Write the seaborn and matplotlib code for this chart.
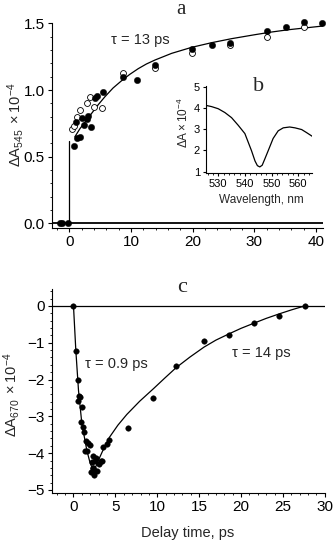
import numpy as np
import pandas as pd
import matplotlib
matplotlib.use("Agg")
import matplotlib.pyplot as plt
import seaborn as sns
from matplotlib.ticker import MultipleLocator

# ---------------- data ----------------
# panel a: kinetics at 545 nm
a_fill_t = [-1.5, -1.13, -0.16, 0.76, 1.2, 1.73, 1.03, 2.1, 2.43, 2.81, 3.08, 3.52,
            4.17, 4.44, 5.41, 8.76, 10.92, 13.9, 19.94, 23.08, 26.05, 32.04, 35.07, 38.1, 41.0]
a_fill_v = [0, 0, 0, 0.58, 0.64, 0.645, 0.76, 0.79, 0.74, 0.78, 0.805, 0.72,
            0.94, 0.955, 0.987, 1.10, 1.075, 1.19, 1.305, 1.337, 1.355, 1.445, 1.47, 1.51, 1.50]
a_open_t = [0.49, 0.81, 1.2, 1.73, 2.81, 3.35, 4.05, 5.35, 8.76, 13.9, 19.94, 26.05, 32.04, 38.1]
a_open_v = [0.707, 0.73, 0.80, 0.85, 0.90, 0.945, 0.87, 0.867, 1.13, 1.163, 1.28, 1.337, 1.40, 1.47]
a_step_t = [0.0, 0.0]
a_step_v = [0.0, 0.62]
a_fit_t = [0.92, 1.73, 3.08, 3.63, 4.7, 5.79, 7.1, 8.49, 9.8, 11.18, 12.5, 13.9, 16.6,
           19.84, 23.08, 26.3, 30.1, 32.8, 35.5, 38.7, 41.1]
a_fit_v = [0.65, 0.71, 0.79, 0.825, 0.89, 0.95, 1.015, 1.07, 1.117, 1.16, 1.195, 1.225,
           1.275, 1.32, 1.355, 1.385, 1.415, 1.435, 1.452, 1.468, 1.48]

# panel b: spectrum
b_wl = [525.3, 527.5, 530, 532.5, 535, 537.5, 540, 542.5, 543.8, 544.7, 545.6, 546.5,
        547.5, 548.8, 550.6, 552.5, 554.4, 556.8, 558.8, 561.3, 563.1, 565.3]
b_v = [4.12, 4.06, 3.96, 3.78, 3.54, 3.18, 2.79, 1.98, 1.5, 1.28, 1.22, 1.3,
       1.6, 2.0, 2.56, 2.92, 3.06, 3.1, 3.06, 2.98, 2.84, 2.66]

# panel c: kinetics at 670 nm
c_t = [0, 0.28, 0.48, 0.6, 0.52, 0.8, 1.0, 0.92, 1.19, 1.28, 1.51, 1.79, 1.39, 1.99,
       2.38, 2.19, 2.59, 2.38, 2.79, 2.6, 3.1, 3.38, 3.58, 3.98, 4.29, 2.07, 2.47,
       2.71, 1.6, 3.27, 2.31, 6.5, 9.54, 12.24, 15.58, 18.56, 21.54, 24.52, 27.62]
c_v = [0, -1.23, -2.01, -2.46, -2.57, -2.48, -2.75, -3.16, -3.30, -3.43, -3.66, -3.73,
       -3.93, -3.77, -4.07, -4.25, -4.2, -4.39, -4.48, -4.48, -4.3, -4.2, -3.84, -3.75,
       -3.64, -4.5, -4.58, -4.12, -3.95, -4.21, -4.39, -3.31, -2.51, -1.64, -0.96,
       -0.78, -0.46, -0.27, 0]
c_fit_t = [0, 0.28, 0.6, 1.0, 1.6, 2.0, 2.3, 2.6, 3.0, 3.6, 4.29, 5.3, 6.36, 7.9, 9.54,
           10.9, 12.24, 13.9, 15.58, 17.0, 18.56, 20.0, 21.54, 23.0, 24.52, 26.0, 27.62]
c_fit_v = [0, -1.21, -2.30, -3.2, -3.93, -4.28, -4.43, -4.40, -4.18, -3.88, -3.57,
           -3.24, -2.95, -2.59, -2.25, -1.96, -1.68, -1.39, -1.12, -0.93, -0.76, -0.61,
           -0.47, -0.34, -0.22, -0.11, 0]

# ---------------- style ----------------
sns.set_style("ticks")
plt.rcParams["font.family"] = ["Liberation Sans", "DejaVu Sans"]
plt.rcParams["mathtext.fontset"] = "custom"
plt.rcParams["mathtext.rm"] = "Liberation Sans"
plt.rcParams["mathtext.it"] = "Liberation Sans:italic"
plt.rcParams["mathtext.default"] = "rm"
plt.rcParams["axes.linewidth"] = 0.8

W, H = 335, 543
fig = plt.figure(figsize=(W / 100, H / 100), dpi=100)


def rect(l, t, r, b):
    return [l / W, 1 - b / H, (r - l) / W, (b - t) / H]


def ftext(x, y, s, **kw):
    fig.text(x / W, 1 - y / H, s, ha="center", va="center", **kw)


def style_axes(ax, fs, maj=3.0, mnr=1.6):
    sns.despine(ax=ax)
    ax.tick_params(which="major", direction="out", length=maj, width=0.8,
                   labelsize=fs, pad=2, color="black", labelcolor="black")
    ax.tick_params(which="minor", direction="out", length=mnr, width=0.6, color="black")
    for s in ("left", "bottom"):
        ax.spines[s].set_color("black")
    ax.set_xlabel("")
    ax.set_ylabel("")


ax1 = fig.add_axes(rect(51.7, 22.7, 322.7, 227.7))
ax2 = fig.add_axes(rect(51.7, 289.3, 325, 493.3))
axb = fig.add_axes(rect(205.7, 86, 312.3, 173.3))

# ---- panel a ----
ax1.axhline(0, color="black", lw=1.3, zorder=1)
sns.lineplot(x=a_step_t, y=a_step_v, ax=ax1, color="black", lw=0.9,
             sort=False, estimator=None)
sns.lineplot(x=a_fit_t, y=a_fit_v, ax=ax1, color="black", lw=0.9,
             sort=False, estimator=None)
sns.scatterplot(x=a_open_t, y=a_open_v, ax=ax1, marker="o", s=18, color="white",
                edgecolor="black", linewidth=0.6, zorder=3, clip_on=False)
sns.scatterplot(x=a_fill_t, y=a_fill_v, ax=ax1, marker="o", s=21, color="black",
                edgecolor="black", linewidth=0.3, zorder=4, clip_on=False)
ax1.set_xlim(-2.85, 41.1)
ax1.set_ylim(-0.033, 1.505)
ax1.xaxis.set_major_locator(MultipleLocator(10))
ax1.xaxis.set_minor_locator(MultipleLocator(2))
ax1.yaxis.set_major_locator(MultipleLocator(0.5))
ax1.yaxis.set_minor_locator(MultipleLocator(0.1))
ax1.yaxis.set_major_formatter(matplotlib.ticker.FormatStrFormatter("%.1f"))
style_axes(ax1, 11)
ax1.text(11.5, 1.375, "τ = 13 ps", fontsize=10.5, ha="center", va="center")

# ---- panel b (inset) ----
axb.set_facecolor("white")
sns.lineplot(x=b_wl, y=b_v, ax=axb, color="black", lw=0.9, sort=False, estimator=None)
axb.set_xlim(525.3, 565.3)
axb.set_ylim(0.92, 5.03)
axb.xaxis.set_major_locator(MultipleLocator(10))
axb.xaxis.set_minor_locator(MultipleLocator(2))
axb.yaxis.set_major_locator(MultipleLocator(1))
style_axes(axb, 8, maj=2.5, mnr=1.3)
axb.tick_params(which="major", pad=1.5)

# ---- panel c ----
ax2.axhline(0, color="black", lw=0.9, zorder=1)
sns.lineplot(x=c_fit_t, y=c_fit_v, ax=ax2, color="black", lw=0.9,
             sort=False, estimator=None)
sns.scatterplot(x=c_t, y=c_v, ax=ax2, marker="o", s=16, color="black",
                edgecolor="black", linewidth=0.3, zorder=4, clip_on=False)
ax2.set_xlim(-2.6, 30.02)
ax2.set_ylim(-5.09, 0.45)
ax2.xaxis.set_major_locator(MultipleLocator(5))
ax2.xaxis.set_minor_locator(MultipleLocator(1))
ax2.yaxis.set_major_locator(MultipleLocator(1))
ax2.yaxis.set_minor_locator(MultipleLocator(0.2))
style_axes(ax2, 11)
ax2.text(5.17, -1.59, "τ = 0.9 ps", fontsize=10.5, ha="center", va="center")
ax2.text(22.45, -1.28, "τ = 14 ps", fontsize=10.5, ha="center", va="center")

# ---- figure texts ----
serif = ["Liberation Serif", "DejaVu Serif"]
ftext(181, 9, "a", fontsize=15, family=serif)
ftext(259, 86.5, "b", fontsize=16, family=serif)
ftext(182, 288, "c", fontsize=16, family=serif)
ftext(15, 125, r"$\Delta A_{545}\ \times10^{-4}$", fontsize=10.5, rotation=90)
ftext(11.5, 395, r"$\Delta A_{670}\ \times10^{-4}$", fontsize=10.5, rotation=90)
ftext(183, 123, r"$\Delta A\times10^{-4}$", fontsize=8.5, rotation=90)
ftext(261.7, 200, "Wavelength, nm", fontsize=8.5)
ftext(188, 533, "Delay time, ps", fontsize=10.5)

fig.savefig("out.png", dpi=100)
